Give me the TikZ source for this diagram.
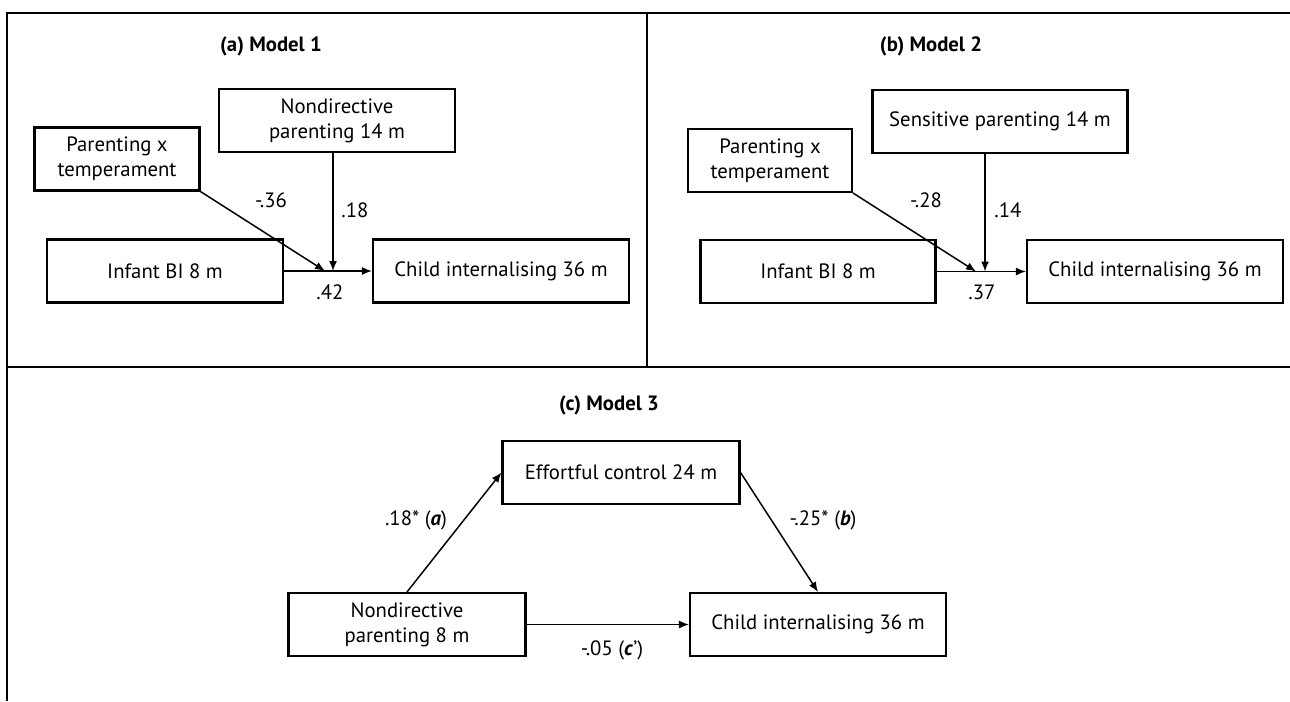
\documentclass[tikz,border=0pt]{standalone}
\usepackage{fontspec}
\setmainfont{PT Sans}
\usetikzlibrary{arrows.meta}

\begin{document}
\begin{tikzpicture}[x=0.02cm, y=-0.02cm, font=\fontsize{11.8}{14.2}\selectfont,
  box/.style={draw, line width=1.2pt, align=center, minimum height=1.26cm, inner sep=2pt},
  path/.style={-{Latex[length=2mm, width=1.6mm]}, line width=0.85pt},
  frame/.style={line width=1.2pt}]
  \useasboundingbox (0,0) rectangle (1290,701);
  % 外框
  \draw[frame] (1290,13) -- (7,13) -- (7,701);
  \draw[frame] (647,13) -- (647,367);
  \draw[frame] (7,367) -- (1290,367);

  % (a) Model 1
  \node (ta) at (271,46) {\bfseries (a) Model 1};
  \node[box, minimum width=4.72cm] (nda) at (337,120.5) {Nondirective\\parenting 14 m};
  \node[box, minimum width=3.30cm] (pxa) at (117,159) {Parenting x\\temperament};
  \node[box, minimum width=4.72cm] (bia) at (165,271) {Infant BI 8 m};
  \node[box, minimum width=5.12cm] (cia) at (501,271) {Child internalising 36 m};
  \coordinate (ma) at (333,271);
  \coordinate (ma2) at (325,271);

  \draw[path] (bia) -- (cia);
  \draw[path] (nda.south -| ma) -- (ma);
  \draw[path] (pxa.south east) -- (ma2);

  \node (la1) at (271,200) {-.36};
  \node (la2) at (355,210) {.18};
  \node (la3) at (330,292) {.42};

  % (b) Model 2
  \node (tb) at (931,46) {\bfseries (b) Model 2};
  \node[box, minimum width=5.10cm] (spb) at (1000,121.5) {Sensitive parenting 14 m};
  \node[box, minimum width=3.28cm] (pxb) at (770,160.5) {Parenting x\\temperament};
  \node[box, minimum width=4.70cm] (bib) at (818,271.5) {Infant BI 8 m};
  \node[box, minimum width=5.12cm] (cib) at (1155,271.5) {Child internalising 36 m};
  \coordinate (mb) at (985,271.5);
  \coordinate (mb2) at (976,271.5);

  \draw[path] (bib) -- (cib);
  \draw[path] (spb.south -| mb) -- (mb);
  \draw[path] (pxb.south east) -- (mb2);

  \node (lb1) at (926,200) {-.28};
  \node (lb2) at (1008,210) {.14};
  \node (lb3) at (982,292) {.37};

  % (c) Model 3
  \node (tc) at (609,405) {\bfseries (c) Model 3};
  \node[box, minimum width=4.74cm] (ec) at (621,472.5) {Effortful control 24 m};
  \node[box, minimum width=4.74cm] (nd8) at (407,624.5) {Nondirective\\parenting 8 m};
  \node[box, minimum width=5.12cm] (cic) at (818,624.5) {Child internalising 36 m};

  \draw[path] (nd8.north) -- (ec.west);
  \draw[path] (ec.east) -- (cic.north);
  \draw[path] (nd8) -- (cic);

  \node (lc1) at (416,520) {.18* (\textbf{\textit{a}})};
  \node (lc2) at (823,520) {-.25* (\textbf{\textit{b}})};
  \node (lc3) at (612,650) {-.05 (\textbf{\textit{c}}’)};
\end{tikzpicture}
\end{document}
